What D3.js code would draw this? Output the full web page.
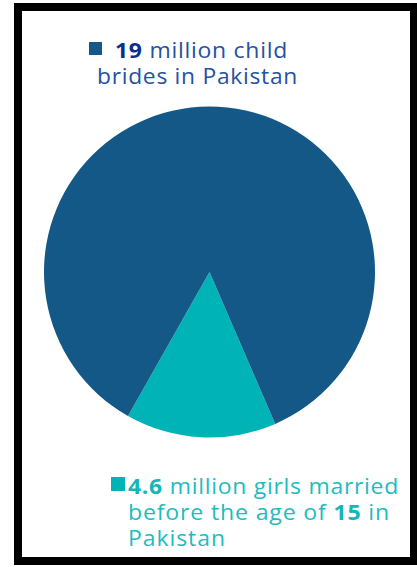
<!DOCTYPE html>
<html><head><meta charset="utf-8">
<script src="https://cdn.jsdelivr.net/npm/d3@7"></script>
<style>html,body{margin:0;padding:0;background:#fff;}svg{display:block;}</style>
</head><body>
<script>
// Data
const categories = ["4.6 million girls married before the age of 15", "19 million child brides"];
const sliceShares = [14.7, 85.3];   // visual share of the pie as drawn
const colors = ["#00b3b6", "#135887"];
const legendTop = [[{t:"19", b:true}, {t:" million child"}], [{t:"brides in Pakistan"}]];
const legendBottom = [[{t:"4.6", b:true}, {t:" million girls married"}], [{t:"before the age of "}, {t:"15", b:true}, {t:" in"}], [{t:"Pakistan"}]];

const W = 417, H = 567;
const svg = d3.select("body").append("svg").attr("width", W).attr("height", H);
svg.append("rect").attr("width", W).attr("height", H).attr("fill", "#fff");
svg.append("rect").attr("x", 18).attr("y", 7).attr("width", 396).attr("height", 554)
  .attr("fill", "#fff").attr("stroke", "#000").attr("stroke-width", 8);

const cx = 209.5, cy = 272, r = 165.5;
const start = 156.6 * Math.PI / 180;
const pie = d3.pie().sort(null).startAngle(start).endAngle(start + 2 * Math.PI);
const arc = d3.arc().innerRadius(0).outerRadius(r);
svg.append("g").attr("transform", `translate(${cx},${cy})`)
  .selectAll("path").data(pie(sliceShares)).join("path")
  .attr("d", arc).attr("fill", (d, i) => colors[i]);

const font = "'Open Sans', Lato, sans-serif";
function legend(lines, xs, widths, y0, dy, sq, color, boldColor) {
  svg.append("rect").attr("x", sq[0]).attr("y", sq[1]).attr("width", sq[2]).attr("height", sq[2]).attr("fill", sq[3]);
  lines.forEach((ln, i) => {
    const t = svg.append("text").attr("x", xs[i]).attr("y", y0 + i * dy)
      .attr("font-family", font).attr("font-size", 21).attr("fill", color);
    ln.forEach(s => t.append("tspan").text(s.t).attr("font-weight", s.b ? 700 : 400)
      .attr("fill", s.b ? boldColor : color).attr("xml:space", "preserve"));
    const w = t.node().getComputedTextLength();
    const n = ln.map(s => s.t).join("").length;
    // half of the extra width as spacing, the rest by stretching glyphs
    const ls = (widths[i] - w) / (n - 1) * 0.4;
    t.attr("letter-spacing", ls.toFixed(2))
     .attr("textLength", widths[i]).attr("lengthAdjust", "spacingAndGlyphs");
  });
}
legend(legendTop, [115, 97], [173, 201], 58, 25.5, [89, 42, 13, colors[1]], "#2451a3", "#0b2f8c");
legend(legendBottom, [128, 128, 128], [271, 262, 98], 494, 26, [111, 477, 14, colors[0]], "#1dbcbe", "#15b5b8");
</script>
</body></html>
